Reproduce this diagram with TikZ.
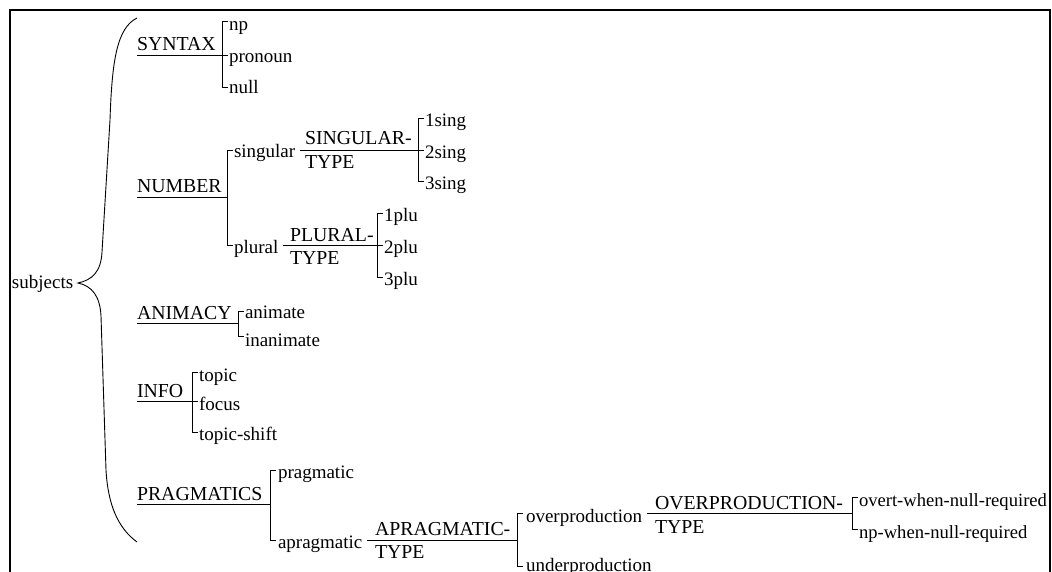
\documentclass[tikz,border=0pt]{standalone}
\usepackage{fontspec}
\setmainfont{Liberation Serif}
\begin{document}
\begin{tikzpicture}[x=1pt,y=-1pt,
  every node/.style={inner sep=0pt, outer sep=0pt, anchor=base west, font=\fontsize{19}{21}\selectfont},
  cat/.style={font=\fontsize{19.8}{21}\selectfont},
  leaf/.style={font=\fontsize{18.6}{21}\selectfont},
  ln/.style={line width=0.9pt},
  frame/.style={line width=2pt}]
\useasboundingbox (0,0) rectangle (1052,572);
\draw[frame] (10,572) -- (10,10) -- (1050,10) -- (1050,572);

% root
\node (subj) at (12,288) {subjects};
\coordinate (brT) at (137,18);
\coordinate (brB) at (137,542);
\coordinate (brM) at (78,283);
\draw[ln] (brT) .. controls (117,28) and (112,60) .. (110,120) -- (102,252)
  .. controls (101,272) and (92,280) .. (brM)
  .. controls (92,286) and (100,296) .. (101,316) -- (106,470)
  .. controls (108,505) and (118,528) .. (brB);

% SYNTAX
\node[cat] (syntax) at (137,51) {SYNTAX};
\coordinate (syB) at (222,55);
\node (np) at (229,31) {np};
\node (pronoun) at (229,63) {pronoun};
\node (null) at (229,94) {null};
\draw[ln] (syntax.base west) ++(0,4) -- (syB);
\draw[ln] (228,21) -- (222,21) -- (222,87) -- (228,87);
\draw[ln] (syB) -- (228,55);

% NUMBER
\node[cat] (number) at (137,193) {NUMBER};
\coordinate (nuB) at (227,197);
\draw[ln] (number.base west) ++(0,4) -- (nuB);
\draw[ln] (233,150) -- (227,150) -- (227,245) -- (233,245);
\node (singular) at (234,158) {singular};
\node (plural) at (234,254) {plural};

\coordinate (sgB) at (418,150);
\draw[ln] ([xshift=5pt]singular.east |- sgB) -- (sgB);
\node[cat] (sgtype1) at (305,145) {SINGULAR-};
\node[cat] (sgtype2) at (305,169) {TYPE};
\draw[ln] (424,118) -- (418,118) -- (418,181) -- (424,181);
\draw[ln] (sgB) -- (424,150);
\node (s1) at (425,127) {1sing};
\node (s2) at (425,159) {2sing};
\node (s3) at (425,190) {3sing};

\coordinate (plB) at (377,245);
\draw[ln] ([xshift=5pt]plural.east |- plB) -- (plB);
\node[cat] (pltype1) at (290,241) {PLURAL-};
\node[cat] (pltype2) at (290,265) {TYPE};
\draw[ln] (383,213) -- (377,213) -- (377,277) -- (383,277);
\draw[ln] (plB) -- (383,245);
\node (p1) at (384,222) {1plu};
\node (p2) at (384,254) {2plu};
\node (p3) at (384,285) {3plu};

% ANIMACY
\node[cat] (animacy) at (137,319) {ANIMACY};
\coordinate (anB) at (238,323);
\draw[ln] (animacy.base west) ++(0,4) -- (anB);
\draw[ln] (244,311) -- (238,311) -- (238,336) -- (244,336);
\node (animate) at (245,318) {animate};
\node (inanimate) at (245,346) {inanimate};

% INFO
\node[cat] (info) at (137,397) {INFO};
\coordinate (inB) at (192,401);
\draw[ln] (info.base west) ++(0,4) -- (inB);
\draw[ln] (198,372) -- (192,372) -- (192,432) -- (198,432);
\draw[ln] (inB) -- (198,401);
\node (topic) at (199,381) {topic};
\node (focus) at (199,410) {focus};
\node (tshift) at (199,440) {topic-shift};

% PRAGMATICS
\node[cat] (pragmatics) at (137,500) {PRAGMATICS};
\coordinate (prB) at (270,504);
\draw[ln] (pragmatics.base west) ++(0,4) -- (prB);
\draw[ln] (276,470) -- (270,470) -- (270,540) -- (276,540);
\node (pragmatic) at (278,478) {pragmatic};
\node (apragmatic) at (278,548) {apragmatic};

\coordinate (apB) at (517,540);
\draw[ln] ([xshift=5pt]apragmatic.east |- apB) -- (apB);
\node[cat] (aptype1) at (375,535) {APRAGMATIC-};
\node[cat] (aptype2) at (375,558) {TYPE};
\draw[ln] (523,513) -- (517,513) -- (517,566) -- (523,566);
\node (overprod) at (526,522) {overproduction};
\node (underprod) at (526,571) {underproduction};

\coordinate (ovB) at (852,513);
\draw[ln] ([xshift=5pt]overprod.east |- ovB) -- (ovB);
\node[cat] (ovtype1) at (655,509) {OVERPRODUCTION-};
\node[cat] (ovtype2) at (655,533) {TYPE};
\draw[ln] (858,497) -- (852,497) -- (852,529) -- (858,529);
\node[leaf] (overt) at (859,506) {overt-when-null-required};
\node[leaf] (npwhen) at (859,538) {np-when-null-required};
\end{tikzpicture}
\end{document}
